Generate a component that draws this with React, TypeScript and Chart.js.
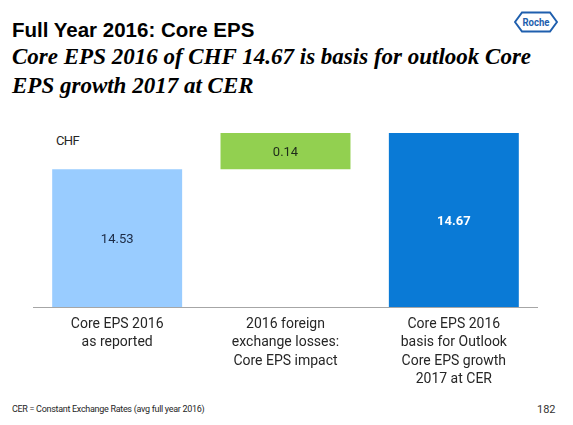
import React, { useEffect, useRef } from "react";
import { Chart, registerables } from "chart.js";

Chart.register(...registerables);

// ---- data ----
const categories: string[][] = [
  ["Core EPS 2016", "as reported"],
  ["2016 foreign", "exchange losses:", "Core EPS impact"],
  ["Core EPS 2016", "basis for Outlook", "Core EPS growth", "2017 at CER"],
];
const axisStart = 14.0; // value axis is cut; bars start here
const reportedEps = 14.53;
const fxImpact = 0.14;
const basisEps = 14.67;
const valueLabels = ["14.53", "0.14", "14.67"];
const barColors = ["#99CCFF", "#92D050", "#0A7AD6"];
const labelColors = ["#1C2A44", "#1E2B1A", "#FFFFFF"];
const labelWeights = ["normal", "normal", "bold"];

const barData: [number, number][] = [
  [axisStart, reportedEps],
  [reportedEps, reportedEps + fxImpact],
  [axisStart, basisEps],
];

const valueLabelPlugin = {
  id: "valueLabels",
  afterDatasetsDraw(chart: any) {
    const ctx = chart.ctx;
    const meta = chart.getDatasetMeta(0);
    ctx.save();
    ctx.textAlign = "center";
    ctx.textBaseline = "middle";
    meta.data.forEach((el: any, i: number) => {
      const top = Math.min(el.y, el.base);
      const bottom = Math.max(el.y, el.base);
      ctx.font = `${labelWeights[i]} 13px Roboto`;
      ctx.fillStyle = labelColors[i];
      ctx.fillText(valueLabels[i], el.x, (top + bottom) / 2 + 1.5);
    });
    ctx.restore();
  },
};

function WaterfallChart() {
  const ref = useRef<HTMLCanvasElement | null>(null);
  useEffect(() => {
    if (!ref.current) return;
    const chart = new Chart(ref.current, {
      type: "bar",
      data: {
        labels: categories,
        datasets: [
          {
            data: barData as any,
            backgroundColor: barColors,
            borderWidth: 0,
            barPercentage: 0.772,
            categoryPercentage: 1,
          },
        ],
      },
      options: {
        animation: false,
        responsive: false,
        maintainAspectRatio: false,
        layout: { padding: 0 },
        plugins: {
          legend: { display: false },
          tooltip: { enabled: false },
          title: { display: false },
        },
        scales: {
          x: {
            grid: { display: false },
            border: { display: true, color: "#A6A6A6", width: 1 },
            ticks: {
              color: "#262626",
              padding: 0,
              maxRotation: 0,
              autoSkip: false,
              font: { family: "Roboto", size: 14, lineHeight: "18.5px" as any },
            },
          },
          y: {
            display: false,
            min: axisStart,
            max: basisEps,
          },
        },
      },
      plugins: [valueLabelPlugin],
    });
    return () => chart.destroy();
  }, []);
  return <canvas ref={ref} width={505} height={256} style={{ width: 505, height: 256, display: "block" }} />;
}

function RocheLogo() {
  return (
    <svg width={44} height={22} viewBox="0 0 44 22" style={{ position: "absolute", left: 514, top: 11 }}>
      <polygon
        points="1,11 8,1.5 36,1.5 43,11 36,20.5 8,20.5"
        fill="none"
        stroke="#1F5FAE"
        strokeWidth={2}
      />
      <text
        x={22}
        y={15}
        textAnchor="middle"
        fontFamily="Roboto"
        fontWeight="bold"
        fontSize={11.5}
        fill="#1F5FAE"
        textLength={27}
        lengthAdjust="spacingAndGlyphs"
      >
        Roche
      </text>
    </svg>
  );
}

export default function App() {
  return (
    <div
      style={{
        position: "fixed",
        left: 0,
        top: 0,
        width: 573,
        height: 425,
        background: "#FFFFFF",
        overflow: "hidden",
      }}
    >
      <div
        style={{
          position: "absolute",
          left: 12,
          top: 18,
          fontFamily: "'Liberation Sans', Arial, sans-serif",
          fontWeight: "bold",
          fontSize: 20.5,
          lineHeight: "24px",
          color: "#000",
          whiteSpace: "nowrap",
        }}
      >
        Full Year 2016: Core EPS
      </div>
      <div
        style={{
          position: "absolute",
          left: 12,
          top: 42,
          fontFamily: "'Liberation Serif', 'Times New Roman', serif",
          fontWeight: "bold",
          fontStyle: "italic",
          fontSize: 23,
          lineHeight: "29px",
          color: "#000",
          whiteSpace: "nowrap",
        }}
      >
        <div>Core EPS 2016 of CHF 14.67 is basis for outlook Core</div>
        <div>EPS growth 2017 at CER</div>
      </div>
      <RocheLogo />
      <div
        style={{
          position: "absolute",
          left: 56,
          top: 132,
          fontFamily: "Roboto",
          fontSize: 13,
          lineHeight: "18px",
          letterSpacing: "-0.6px",
          color: "#262626",
        }}
      >
        CHF
      </div>
      <div style={{ position: "absolute", left: 33, top: 133 }}>
        <WaterfallChart />
      </div>
      <div
        style={{
          position: "absolute",
          left: 12,
          top: 403,
          fontFamily: "Roboto",
          fontSize: 9,
          lineHeight: "12px",
          letterSpacing: "-0.3px",
          color: "#262626",
          whiteSpace: "nowrap",
        }}
      >
        CER = Constant Exchange Rates (avg full year 2016)
      </div>
      <div
        style={{
          position: "absolute",
          left: 537,
          top: 403,
          fontFamily: "Roboto",
          fontSize: 11,
          lineHeight: "14px",
          color: "#333333",
        }}
      >
        182
      </div>
    </div>
  );
}
